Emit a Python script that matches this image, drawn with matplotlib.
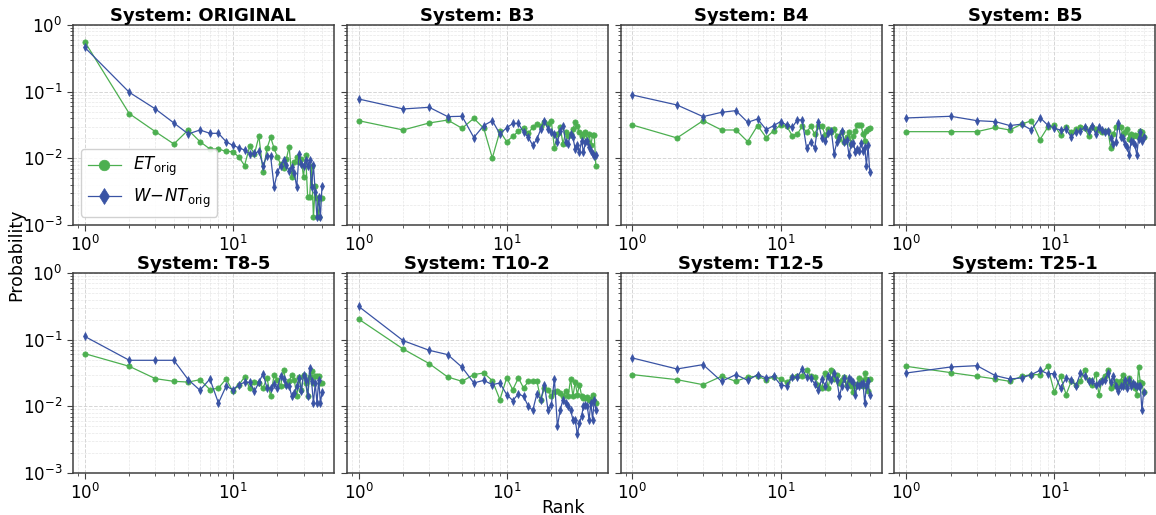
import numpy as np
import matplotlib
matplotlib.use("Agg")
import matplotlib.pyplot as plt

ranks = list(range(1, 41))
systems = ["ORIGINAL", "B3", "B4", "B5", "T8-5", "T10-2", "T12-5", "T25-1"]

et_original = [0.562, 0.0468, 0.0251, 0.0164, 0.0266, 0.0178, 0.0138, 0.0138, 0.0127, 0.0126,
               0.0104, 0.0078, 0.0151, 0.0117, 0.0214, 0.0062, 0.0141, 0.0207, 0.0141, 0.0104,
               0.0082, 0.0071, 0.0098, 0.0150, 0.0052, 0.0087, 0.0104, 0.0087, 0.0098, 0.0052,
               0.0112, 0.0026, 0.0026, 0.0078, 0.0013, 0.0039, 0.0025, 0.0013, 0.0025, 0.0025]
wnt_original = [0.462, 0.0977, 0.055, 0.0339, 0.0232, 0.0266, 0.0237, 0.0237, 0.0178, 0.0156,
                0.0144, 0.0133, 0.0117, 0.0119, 0.0127, 0.0078, 0.0110, 0.0107, 0.0037, 0.0062,
                0.0078, 0.0093, 0.0079, 0.0065, 0.0074, 0.0060, 0.0037, 0.0117, 0.0082, 0.0078,
                0.0093, 0.0078, 0.0093, 0.0037, 0.0080, 0.0031, 0.0013, 0.0026, 0.0013, 0.0039]

et_b3 = [0.0367, 0.0266, 0.0339, 0.0375, 0.0282, 0.0398, 0.0282, 0.0101, 0.0254, 0.0178,
         0.0214, 0.0254, 0.0284, 0.0240, 0.0290, 0.0325, 0.0310, 0.0347, 0.0325, 0.0367,
         0.0141, 0.0232, 0.0290, 0.0164, 0.0245, 0.0219, 0.0232, 0.0274, 0.0347, 0.0302,
         0.0245, 0.0219, 0.0232, 0.0251, 0.0184, 0.0232, 0.0156, 0.0224, 0.0224, 0.0076]
wnt_b3 = [0.0776, 0.055, 0.0582, 0.0422, 0.0427, 0.0205, 0.0310, 0.0367, 0.0232, 0.0287,
          0.0333, 0.0333, 0.0245, 0.0207, 0.0156, 0.0195, 0.0274, 0.0367, 0.0274, 0.0245,
          0.0232, 0.0178, 0.0260, 0.0310, 0.0174, 0.0164, 0.0232, 0.0207, 0.0138, 0.0156,
          0.0123, 0.0184, 0.0123, 0.0174, 0.0184, 0.0146, 0.0130, 0.0117, 0.0110, 0.0112]

et_b4 = [0.0316, 0.0202, 0.0367, 0.0266, 0.0266, 0.0178, 0.0310, 0.0205, 0.0260, 0.0316,
         0.0302, 0.0219, 0.0232, 0.0302, 0.0245, 0.0302, 0.0232, 0.0302, 0.0310, 0.0224,
         0.0274, 0.0245, 0.0274, 0.0219, 0.0195, 0.0245, 0.0174, 0.0207, 0.0245, 0.0164,
         0.0219, 0.0260, 0.0316, 0.0316, 0.0316, 0.0232, 0.0184, 0.0260, 0.0274, 0.0282]
wnt_b4 = [0.0891, 0.0631, 0.0422, 0.0490, 0.0519, 0.0347, 0.0389, 0.0269, 0.0310, 0.0355,
          0.0316, 0.0290, 0.0380, 0.0375, 0.0141, 0.0178, 0.0141, 0.0347, 0.0200, 0.0180,
          0.0237, 0.0260, 0.0117, 0.0174, 0.0207, 0.0260, 0.0174, 0.0191, 0.0112, 0.0164,
          0.0169, 0.0126, 0.0138, 0.0130, 0.0169, 0.0130, 0.0146, 0.0078, 0.0156, 0.0063]

et_b5 = [0.0251, 0.0251, 0.0251, 0.0290, 0.0266, 0.0325, 0.0367, 0.0191, 0.0290, 0.0316,
         0.0224, 0.0296, 0.0245, 0.0274, 0.0290, 0.0282, 0.0219, 0.0290, 0.0274, 0.0266,
         0.0245, 0.0260, 0.0260, 0.0141, 0.0232, 0.0290, 0.0310, 0.0290, 0.0232, 0.0245,
         0.0274, 0.0195, 0.0232, 0.0219, 0.0224, 0.0214, 0.0219, 0.0260, 0.0245, 0.0207]
wnt_b5 = [0.0403, 0.0427, 0.0367, 0.0355, 0.0310, 0.0325, 0.0266, 0.0408, 0.0316, 0.0282,
          0.0266, 0.0274, 0.0207, 0.0251, 0.0260, 0.0290, 0.0260, 0.0310, 0.0232, 0.0290,
          0.0266, 0.0245, 0.0260, 0.0200, 0.0164, 0.0174, 0.0339, 0.0207, 0.0200, 0.0164,
          0.0146, 0.0112, 0.0184, 0.0174, 0.0156, 0.0112, 0.0195, 0.0245, 0.0184, 0.0207]

et_t8_5 = [0.0617, 0.0398, 0.0260, 0.0237, 0.0231, 0.0251, 0.0178, 0.0188, 0.0257, 0.0168,
           0.0211, 0.0275, 0.0188, 0.0229, 0.0224, 0.0188, 0.0266, 0.0141, 0.0299, 0.0251,
           0.0200, 0.0355, 0.0211, 0.0237, 0.0299, 0.0251, 0.0141, 0.0275, 0.0178, 0.0299,
           0.0224, 0.0141, 0.0275, 0.0335, 0.0224, 0.0288, 0.0282, 0.0282, 0.0224, 0.0224]
wnt_t8_5 = [0.112, 0.049, 0.049, 0.049, 0.0251, 0.0174, 0.0257, 0.0112, 0.0200, 0.0178,
            0.0211, 0.0229, 0.0229, 0.0168, 0.0229, 0.0309, 0.0188, 0.0188, 0.0218, 0.0188,
            0.0282, 0.0257, 0.0211, 0.0205, 0.0141, 0.0158, 0.0200, 0.0266, 0.0168, 0.0299,
            0.0251, 0.0141, 0.0376, 0.0237, 0.0112, 0.0224, 0.0112, 0.0251, 0.0112, 0.0162]

et_t10_2 = [0.204, 0.0724, 0.0437, 0.0275, 0.0237, 0.0299, 0.0316, 0.0243, 0.0126, 0.0266,
            0.0178, 0.0266, 0.0188, 0.0237, 0.0237, 0.0237, 0.0126, 0.0188, 0.0178, 0.0141,
            0.0162, 0.0168, 0.0158, 0.0141, 0.0168, 0.0141, 0.0257, 0.0141, 0.0229, 0.0150,
            0.0211, 0.0145, 0.0133, 0.0133, 0.0138, 0.0126, 0.0129, 0.0150, 0.0119, 0.0112]
wnt_t10_2 = [0.316, 0.0966, 0.0692, 0.0596, 0.0385, 0.0224, 0.0245, 0.0211, 0.0224, 0.0150,
             0.0122, 0.0154, 0.0141, 0.0100, 0.0087, 0.0154, 0.0126, 0.0211, 0.0089, 0.0104,
             0.0257, 0.0050, 0.0089, 0.0126, 0.0112, 0.0100, 0.0089, 0.0063, 0.0063, 0.0038,
             0.0056, 0.0071, 0.0100, 0.0106, 0.0100, 0.0063, 0.0112, 0.0063, 0.0126, 0.0089]

et_t12_5 = [0.0299, 0.0251, 0.0211, 0.0282, 0.0237, 0.0275, 0.0282, 0.0251, 0.0275, 0.0260,
            0.0229, 0.0275, 0.0282, 0.0288, 0.0355, 0.0282, 0.0275, 0.0211, 0.0188, 0.0316,
            0.0188, 0.0347, 0.0257, 0.0299, 0.0224, 0.0251, 0.0275, 0.0211, 0.0237, 0.0205,
            0.0162, 0.0205, 0.0218, 0.0266, 0.0251, 0.0200, 0.0316, 0.0257, 0.0168, 0.0257]
wnt_t12_5 = [0.0531, 0.0363, 0.0422, 0.0237, 0.0299, 0.0245, 0.0299, 0.0266, 0.0282, 0.0211,
             0.0200, 0.0275, 0.0275, 0.0363, 0.0275, 0.0266, 0.0218, 0.0178, 0.0257, 0.0205,
             0.0288, 0.0251, 0.0316, 0.0245, 0.0141, 0.0205, 0.0266, 0.0194, 0.0266, 0.0251,
             0.0229, 0.0150, 0.0211, 0.0205, 0.0218, 0.0224, 0.0112, 0.0200, 0.0237, 0.0150]

et_t25_1 = [0.0398, 0.0320, 0.0282, 0.0257, 0.0237, 0.0282, 0.0299, 0.0299, 0.0398, 0.0162,
            0.0282, 0.0150, 0.0237, 0.0211, 0.0237, 0.0355, 0.0245, 0.0211, 0.0309, 0.0150,
            0.0251, 0.0288, 0.0355, 0.0188, 0.0200, 0.0237, 0.0200, 0.0237, 0.0299, 0.0200,
            0.0224, 0.0266, 0.0224, 0.0218, 0.0188, 0.0150, 0.0389, 0.0229, 0.0224, 0.0162]
wnt_t25_1 = [0.0316, 0.0389, 0.0407, 0.0288, 0.0257, 0.0266, 0.0299, 0.0347, 0.0309, 0.0309,
             0.0188, 0.0266, 0.0251, 0.0205, 0.0316, 0.0282, 0.0237, 0.0237, 0.0211, 0.0224,
             0.0237, 0.0251, 0.0316, 0.0229, 0.0288, 0.0205, 0.0168, 0.0200, 0.0205, 0.0251,
             0.0188, 0.0251, 0.0205, 0.0224, 0.0211, 0.0205, 0.0200, 0.0205, 0.0087, 0.0162]

et_series = [et_original, et_b3, et_b4, et_b5, et_t8_5, et_t10_2, et_t12_5, et_t25_1]
wnt_series = [wnt_original, wnt_b3, wnt_b4, wnt_b5, wnt_t8_5, wnt_t10_2, wnt_t12_5, wnt_t25_1]

GREEN = "#4caf50"
BLUE = "#3953a4"

fig, axes = plt.subplots(2, 4, figsize=(11.56, 5.15), dpi=100, sharex=True, sharey=True)
fig.subplots_adjust(left=0.063, right=0.9995, top=0.9515, bottom=0.0816,
                    wspace=0.049, hspace=0.24)

for ax, name, et, wnt in zip(axes.flat, systems, et_series, wnt_series):
    ax.plot(ranks, et, color=GREEN, marker="o", markersize=3.8, linewidth=0.9,
            markeredgewidth=0.5, label=r"$ET_{\mathrm{orig}}$")
    ax.plot(ranks, wnt, color=BLUE, marker="d", markersize=4.2, linewidth=0.9,
            markeredgewidth=0.5, label=r"$W\!-\!NT_{\mathrm{orig}}$")
    ax.set_xscale("log")
    ax.set_yscale("log")
    ax.set_ylim(1e-3, 1e0)
    ax.set_title(f"System: {name}", fontsize=13, fontweight="bold", pad=3)
    ax.grid(True, which="major", linestyle="--", color="#cccccc", linewidth=0.7, alpha=0.8)
    ax.grid(True, which="minor", linestyle="--", color="#dddddd", linewidth=0.5, alpha=0.7)
    ax.set_axisbelow(True)
    ax.tick_params(axis="both", which="major", labelsize=12, length=4, color="0.25")
    ax.tick_params(axis="both", which="minor", length=2, color="0.25")
    ax.tick_params(axis="x", labelbottom=True)
    for sp in ax.spines.values():
        sp.set_color("0.25")
        sp.set_linewidth(1.1)

axes[0, 0].legend(loc="lower left", fontsize=12, markerscale=2.0, frameon=True,
                  framealpha=0.9, edgecolor="#cccccc", borderpad=0.4,
                  handlelength=2.0, labelspacing=0.5, handletextpad=0.7)

fig.text(563 / 1156, 1 - 508 / 515, "Rank", ha="center", va="center", fontsize=12.5)
fig.text(16 / 1156, 1 - 255 / 515, "Probability", ha="center", va="center",
         rotation=90, fontsize=12.5)

fig.savefig("out.png", dpi=100)
